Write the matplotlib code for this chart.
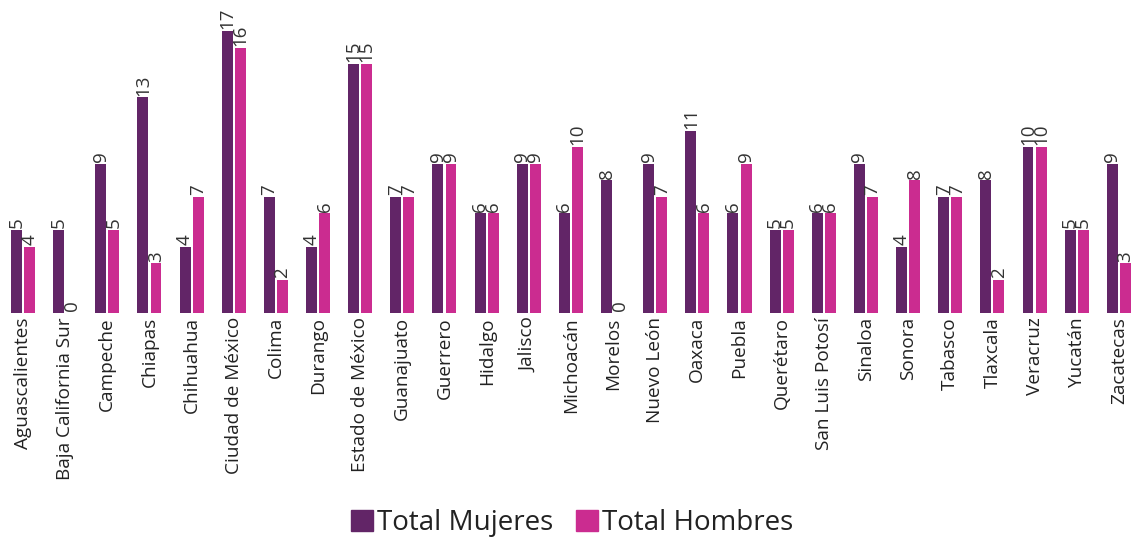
import matplotlib
matplotlib.use("Agg")
import matplotlib.pyplot as plt
import numpy as np
from matplotlib.patches import Patch

plt.rcParams['font.family'] = ['Open Sans', 'DejaVu Sans']

estados = ["Aguascalientes", "Baja California Sur", "Campeche", "Chiapas", "Chihuahua",
           "Ciudad de México", "Colima", "Durango", "Estado de México", "Guanajuato",
           "Guerrero", "Hidalgo", "Jalisco", "Michoacán", "Morelos", "Nuevo León",
           "Oaxaca", "Puebla", "Querétaro", "San Luis Potosí", "Sinaloa", "Sonora",
           "Tabasco", "Tlaxcala", "Veracruz", "Yucatán", "Zacatecas"]
mujeres = [5, 5, 9, 13, 4, 17, 7, 4, 15, 7, 9, 6, 9, 6, 8, 9, 11, 6, 5, 6, 9, 4, 7, 8, 10, 5, 9]
hombres = [4, 0, 5, 3, 7, 16, 2, 6, 15, 7, 9, 6, 9, 10, 0, 7, 6, 9, 5, 6, 7, 8, 7, 2, 10, 5, 3]

c_muj = "#622567"
c_hom = "#cb2c90"
txt = "#333333"

fig = plt.figure(figsize=(11.34, 5.4), dpi=100)
ax = fig.add_axes([0, 227/540, 1, 313/540])

x = np.arange(len(estados))
w = 0.26
off = 0.155
ax.bar(x - off, mujeres, width=w, color=c_muj)
ax.bar(x + off, hombres, width=w, color=c_hom)

for xi, m, h in zip(x, mujeres, hombres):
    ax.text(xi - off, m + 0.1, str(m), rotation=90, ha='center', va='bottom',
            fontsize=13.5, color=txt)
    ax.text(xi + off, h + 0.1, str(h), rotation=90, ha='center', va='bottom',
            fontsize=13.5, color=txt)

ax.set_xlim(-0.546, 26.36)
ax.set_ylim(0, 313/16.59)
ax.set_xticks(x)
ax.set_xticklabels(estados, rotation=90, fontsize=13.7, color="#222222")
ax.tick_params(axis='x', length=0, pad=3)
ax.set_yticks([])
for s in ax.spines.values():
    s.set_visible(False)

handles = [Patch(color=c_muj, label="Total Mujeres"), Patch(color=c_hom, label="Total Hombres")]
fig.legend(handles=handles, loc='center', bbox_to_anchor=(572/1134, 1 - 523/540), ncol=2,
           frameon=False, fontsize=20, handlelength=0.8, handleheight=0.8,
           handletextpad=0.15, columnspacing=0.8, labelcolor="#222222")

fig.savefig("out.png", dpi=100)
